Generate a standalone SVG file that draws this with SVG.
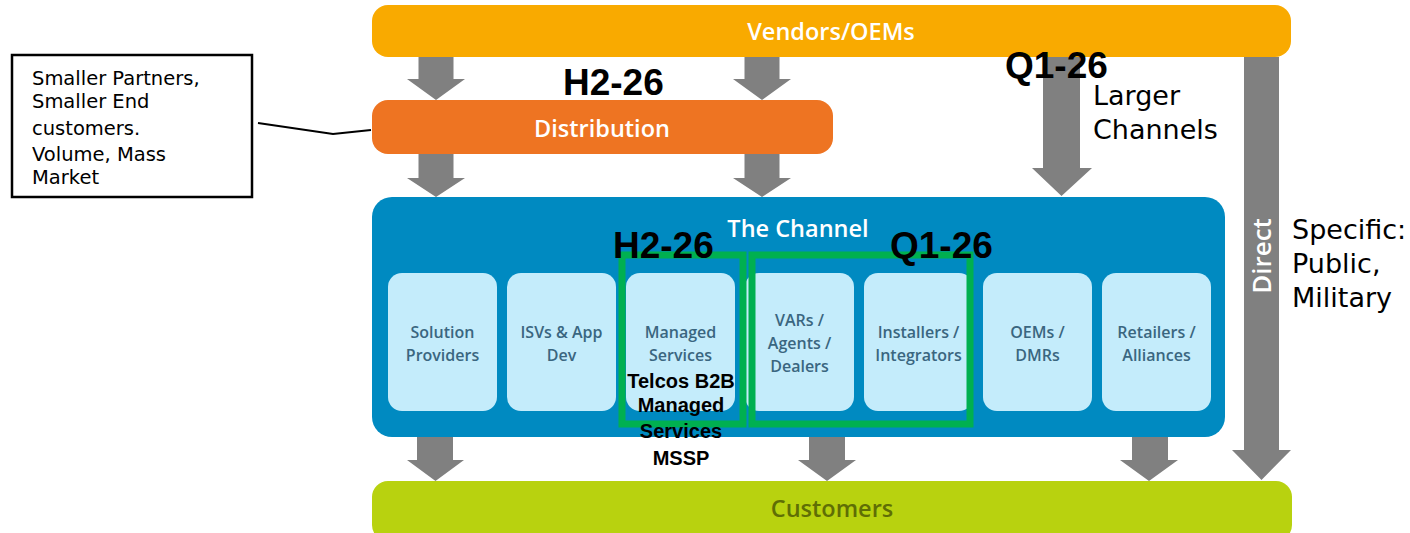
<svg xmlns="http://www.w3.org/2000/svg" width="1410" height="533" viewBox="0 0 1410 533">
<style>
.bar{font-family:"Open Sans","Noto Sans",sans-serif;font-weight:600;font-size:23.5px;fill:#fff;text-anchor:middle}
.box{fill:#C4ECFB}
.bt{font-family:"Open Sans","Noto Sans",sans-serif;font-weight:600;font-size:16px;fill:#3A6680;text-anchor:middle}
.big{font-family:"Liberation Sans",Arial,sans-serif;font-weight:bold;font-size:37px;fill:#000}
.tel{font-family:"Liberation Sans",Arial,sans-serif;font-weight:bold;font-size:20px;fill:#000;text-anchor:middle}
.note{font-family:"DejaVu Sans",sans-serif;font-size:19.5px;fill:#000}
.side{font-family:"DejaVu Sans",sans-serif;font-size:27px;fill:#000}
.arr{fill:#808080}
.grn{fill:none;stroke:#00B050;stroke-width:7}
</style>
<rect width="1410" height="533" fill="#fff"/>
<g id="vendors">
<rect x="372" y="5" width="919" height="52" rx="16" fill="#F9AA00"/>
<text class="bar" x="831" y="40">Vendors/OEMs</text>
</g>
<g id="distribution">
<rect x="372" y="100" width="461" height="54" rx="16" fill="#EE7422"/>
<text class="bar" x="602" y="137">Distribution</text>
</g>
<g id="channel">
<rect x="372" y="197" width="853" height="240" rx="20" fill="#008AC1"/>
<text class="bar" x="798" y="237">The Channel</text>
</g>
<g id="solution-providers">
<rect class="box" x="388" y="273" width="109" height="138" rx="14"/>
<text class="bt" x="442.5" y="338">Solution</text>
<text class="bt" x="442.5" y="361">Providers</text>
</g>
<g id="isvs">
<rect class="box" x="507" y="273" width="109" height="138" rx="14"/>
<text class="bt" x="561.5" y="338">ISVs &amp; App</text>
<text class="bt" x="561.5" y="361">Dev</text>
</g>
<g id="managed-services">
<rect class="box" x="626" y="273" width="109" height="138" rx="14"/>
<text class="bt" x="680.5" y="338">Managed</text>
<text class="bt" x="680.5" y="361">Services</text>
</g>
<g id="vars">
<rect class="box" x="745" y="273" width="109" height="138" rx="14"/>
<text class="bt" x="799.5" y="326">VARs /</text>
<text class="bt" x="799.5" y="349">Agents /</text>
<text class="bt" x="799.5" y="372">Dealers</text>
</g>
<g id="installers">
<rect class="box" x="864" y="273" width="109" height="138" rx="14"/>
<text class="bt" x="918.5" y="338">Installers /</text>
<text class="bt" x="918.5" y="361">Integrators</text>
</g>
<g id="oems">
<rect class="box" x="983" y="273" width="109" height="138" rx="14"/>
<text class="bt" x="1037.5" y="338">OEMs /</text>
<text class="bt" x="1037.5" y="361">DMRs</text>
</g>
<g id="retailers">
<rect class="box" x="1102" y="273" width="109" height="138" rx="14"/>
<text class="bt" x="1156.5" y="338">Retailers /</text>
<text class="bt" x="1156.5" y="361">Alliances</text>
</g>
<g id="customers">
<rect x="372" y="481" width="920" height="60" rx="16" fill="#B8D20F"/>
<text class="bar" x="832" y="517" style="fill:#5F6E05">Customers</text>
</g>
<g id="connectors">
<path class="arr" d="M418.5,57H453.5V79H465L436,100L407,79H418.5Z"/>
<path class="arr" d="M744.5,57H779.5V79H791L762,100L733,79H744.5Z"/>
<path class="arr" d="M418.5,154H453.5V178H465L436,197L407,178H418.5Z"/>
<path class="arr" d="M744.5,154H779.5V178H791L762,197L733,178H744.5Z"/>
<path class="arr" d="M1043,57H1080V168H1092L1061.5,196L1032,168H1043Z"/>
<path class="arr" d="M1244,57H1279V450H1291L1261.5,480L1232,450H1244Z"/>
<path class="arr" d="M417,437H453V460H464L435.5,481L407,460H417Z"/>
<path class="arr" d="M809,437H845V460H856L827,481L798,460H809Z"/>
<path class="arr" d="M1132,437H1168V460H1178L1149,481L1120,460H1132Z"/>
<polyline points="258,123 333,134 371,130" fill="none" stroke="#000" stroke-width="2"/>
</g>
<g id="direct-label">
<text transform="translate(1271,256) rotate(-90)" text-anchor="middle" style="font-family:'Open Sans','Noto Sans',sans-serif;font-weight:600;font-size:26px;fill:#fff">Direct</text>
</g>
<g id="green-h2">
<rect class="grn" x="622" y="255" width="121" height="169"/>
</g>
<g id="green-q1">
<rect class="grn" x="752" y="255" width="218" height="169"/>
</g>
<g id="labels">
<text class="big" x="563" y="95">H2-26</text>
<text class="big" x="1005" y="78">Q1-26</text>
<text class="big" x="613" y="258">H2-26</text>
<text class="big" x="890" y="258">Q1-26</text>
<text class="tel" x="681" y="388">Telcos B2B</text>
<text class="tel" x="681" y="412">Managed</text>
<text class="tel" x="681" y="438">Services</text>
<text class="tel" x="681" y="465">MSSP</text>
<text class="side" x="1093" y="105">Larger</text>
<text class="side" x="1093" y="139">Channels</text>
<text class="side" x="1292" y="239">Specific:</text>
<text class="side" x="1292" y="273">Public,</text>
<text class="side" x="1292" y="307">Military</text>
</g>
<g id="callout">
<rect x="12" y="55" width="240" height="142" fill="#fff" stroke="#000" stroke-width="2.5"/>
<text class="note" x="32" y="85">Smaller Partners,</text>
<text class="note" x="32" y="108">Smaller End</text>
<text class="note" x="32" y="135">customers.</text>
<text class="note" x="32" y="161">Volume, Mass</text>
<text class="note" x="32" y="184">Market</text>
</g>
</svg>
